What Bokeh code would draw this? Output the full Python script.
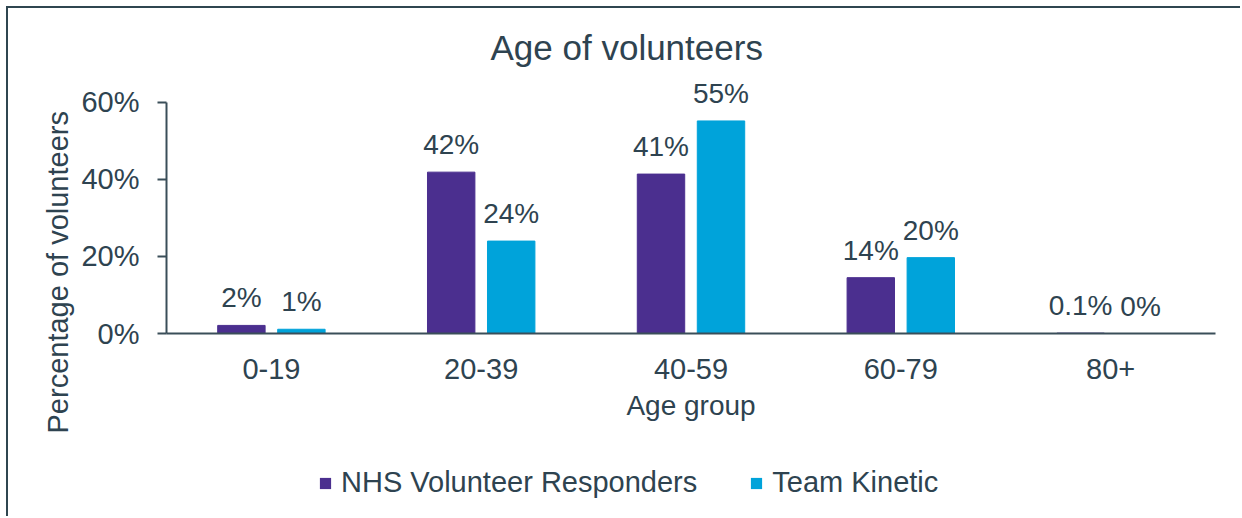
from bokeh.plotting import figure
from bokeh.layouts import column
from bokeh.models import (ColumnDataSource, FactorRange, Range1d, LabelSet, Legend,
                          LegendItem, FixedTicker, PrintfTickFormatter, Title)
from bokeh.core.properties import value
from bokeh.transform import dodge
from bokeh.embed import file_html
from bokeh.resources import INLINE

categories = ["0-19", "20-39", "40-59", "60-79", "80+"]
nhs_values = [2.1, 41.9, 41.4, 14.5, 0.1]
tk_values = [1.1, 24.0, 55.2, 19.7, 0.0]
nhs_labels = ["2%", "42%", "41%", "14%", "0.1%"]
tk_labels = ["1%", "24%", "55%", "20%", "0%"]
y_ticks = [0, 20, 40, 60]
series_names = ["NHS Volunteer Responders", "Team Kinetic"]

TEXT = "#2e4350"
AXIS = "#3a4e59"
PURPLE = "#4b2f8f"
BLUE = "#00a3da"
FONT = "Liberation Sans"

src = ColumnDataSource(dict(cat=categories, nhs=nhs_values, tk=tk_values,
                            nhs_lab=nhs_labels, tk_lab=tk_labels))

p = figure(x_range=FactorRange(*categories, range_padding=0), y_range=Range1d(0, 67),
           width=1232, height=440, output_backend="svg", toolbar_location=None,
           min_border_left=158, min_border_right=25, min_border_top=67, min_border_bottom=115)
p.outline_line_color = None
p.xgrid.grid_line_color = None
p.ygrid.grid_line_color = None

p.title.text = "Age of volunteers"
p.title.text_font = FONT
p.title.text_font_size = "35px"
p.title.text_font_style = "normal"
p.title.text_color = TEXT
p.title.align = "left"
p.title.offset = 324
p.title.standoff = 18

w = 0.226
p.vbar(x=dodge("cat", -0.143, range=p.x_range), top="nhs", width=w, source=src,
       fill_color=PURPLE, line_color=PURPLE)
p.vbar(x=dodge("cat", 0.143, range=p.x_range), top="tk", width=w, source=src,
       fill_color=BLUE, line_color=BLUE)

for col, lab, off in (("nhs", "nhs_lab", -0.143), ("tk", "tk_lab", 0.143)):
    ls = LabelSet(x=dodge("cat", off, range=p.x_range), y=col, text=lab, source=src,
                  text_align="center", text_baseline="alphabetic", y_offset=18,
                  text_font=value(FONT), text_font_size=value("28px"), text_color=TEXT)
    p.add_layout(ls)

for ax in (p.xaxis[0], p.yaxis[0]):
    ax.axis_line_color = AXIS
    ax.axis_line_width = 2
    ax.major_label_text_font = FONT
    ax.major_label_text_font_size = "29px"
    ax.major_label_text_color = TEXT
    ax.axis_label_text_font = FONT
    ax.axis_label_text_font_size = "28px"
    ax.axis_label_text_font_style = "normal"
    ax.axis_label_text_color = TEXT
    ax.minor_tick_line_color = None

p.xaxis.axis_label = "Age group"
p.xaxis.major_tick_line_color = None
p.xaxis.major_label_standoff = 19
p.xaxis.axis_label_standoff = 8

p.yaxis.bounds = (0, 60)
p.yaxis.ticker = FixedTicker(ticks=y_ticks)
p.yaxis.formatter = PrintfTickFormatter(format="%d%%")
p.yaxis.major_tick_in = 0
p.yaxis.major_tick_out = 9
p.yaxis.major_tick_line_color = AXIS
p.yaxis.major_tick_line_width = 2
p.yaxis.major_label_standoff = 18

ytitle = Title(text="Percentage of volunteers", align="left", offset=-100,
               text_font=FONT, text_font_size="29px", text_font_style="normal",
               text_color=TEXT, standoff=10)
p.add_layout(ytitle, "left")

# legend strip below the chart: zero-width bars, so only the legend swatches show
lf = figure(width=1232, height=68, output_backend="svg", toolbar_location=None,
            x_range=FactorRange(*categories, range_padding=0), y_range=Range1d(-2, -1),
            x_axis_location=None, y_axis_location=None,
            min_border_left=0, min_border_right=0, min_border_top=0, min_border_bottom=0)
lf.outline_line_color = None
lf.xgrid.grid_line_color = None
lf.ygrid.grid_line_color = None
k1 = lf.vbar(x="cat", top="nhs", width=0, source=src, fill_color=PURPLE, line_color=None)
k2 = lf.vbar(x="cat", top="tk", width=0, source=src, fill_color=BLUE, line_color=None)

legend = Legend(items=[LegendItem(label=series_names[0], renderers=[k1]),
                       LegendItem(label=series_names[1], renderers=[k2])],
                orientation="horizontal", location=(152, 17),
                label_text_font=FONT, label_text_font_size="29px", label_text_color=TEXT,
                glyph_width=14, glyph_height=14, label_height=30, label_standoff=9,
                spacing=52, padding=0, margin=0, border_line_color=None,
                background_fill_alpha=0)
lf.add_layout(legend)

layout = column(p, lf, spacing=0)
layout.styles = {"border-left": "2px solid #2f4650", "border-top": "2px solid #2f4650",
                 "margin-left": "6px", "margin-top": "6px"}

open("out.html", "w").write(file_html(layout, INLINE))
